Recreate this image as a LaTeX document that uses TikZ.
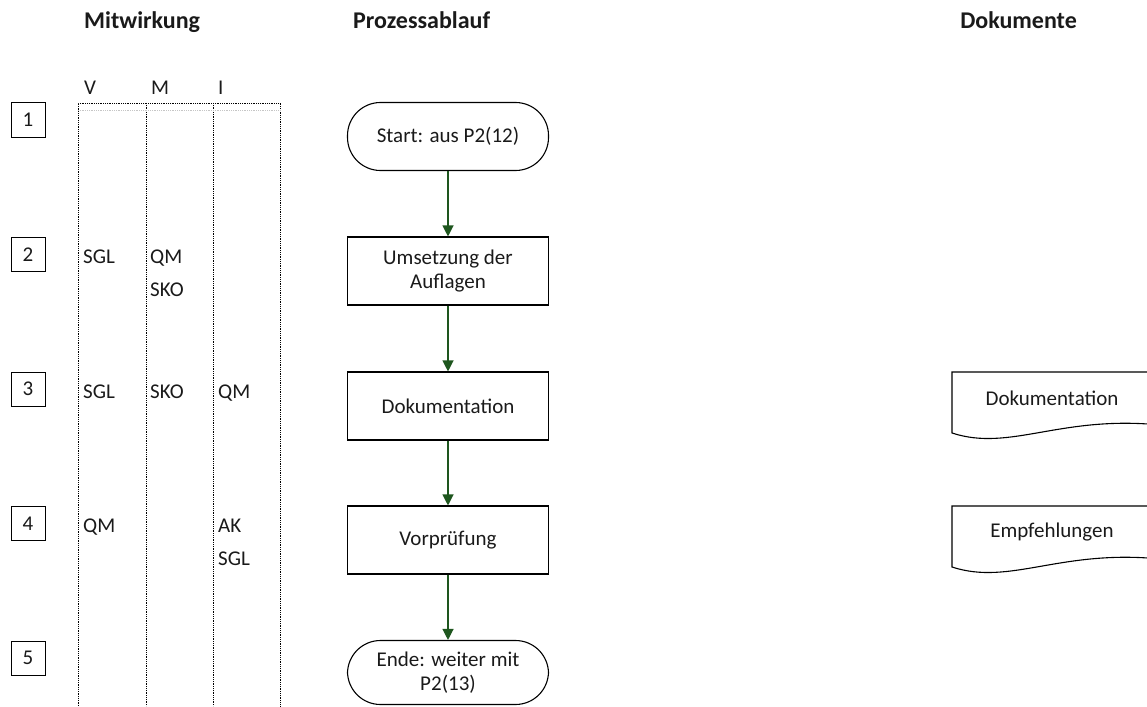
\documentclass[tikz,border=0pt]{standalone}
\usepackage{fontspec}
\setmainfont{Carlito}
\usetikzlibrary{arrows.meta}
\definecolor{flowgreen}{HTML}{1E561E}
\definecolor{ink}{HTML}{1A1A1A}
\begin{document}
\begin{tikzpicture}[x=1pt,y=-1pt,
  every node/.style={text=ink,font=\fontsize{21}{23.5}\selectfont},
  heading/.style={font=\bfseries\fontsize{24}{28}\selectfont, inner sep=0},
  plain/.style={anchor=base west, inner sep=0},
  numbox/.style={draw=black, line width=1pt, minimum width=34pt, minimum height=34pt, inner sep=0},
  procbox/.style={draw=black, line width=1.1pt, minimum width=201pt, minimum height=68pt, align=center, inner sep=2pt},
  terminal/.style={procbox, rounded corners=33pt},
  flow/.style={draw=flowgreen, line width=1.2pt, -{Triangle[length=11pt,width=11pt]}},
  lane/.style={line width=0.9pt, dash pattern=on 0.9pt off 0.9pt},
  docshape/.style={draw=black, line width=1.1pt}
]
\useasboundingbox (0,0) rectangle (1147,706);

% column headings
\node[heading, anchor=base west] (hmit) at (84,29) {Mitwirkung};
\node[heading, anchor=base west] (hproz) at (353,29) {Prozessablauf};
\node[heading, anchor=base east] (hdok) at (1077,29) {Dokumente};

% participation lanes V / M / I
\node[plain] (cv) at (84,95) {V};
\node[plain] (cm) at (151,95) {M};
\node[plain] (ci) at (218,95) {I};
\draw[lane] (78,706) -- (78,103) -- (280,103) -- (280,706);
\draw[lane] (146,103) -- (146,706);
\draw[lane] (213,103) -- (213,706);
\draw[lane, gray!45] (78,110) -- (280,110);

% step numbers
\node[numbox] (n1) at (28,120) {1};
\node[numbox] (n2) at (28,254.5) {2};
\node[numbox] (n3) at (28,389) {3};
\node[numbox] (n4) at (28,523.5) {4};
\node[numbox] (n5) at (28,658) {5};

% roles per step
\node[plain] (r2v) at (83,263.5) {SGL};
\node[plain] (r2m) at (150,263.5) {QM};
\node[plain] (r2m2) at (150,296) {SKO};
\node[plain] (r3v) at (83,398) {SGL};
\node[plain] (r3m) at (150,398) {SKO};
\node[plain] (r3i) at (218,398) {QM};
\node[plain] (r4v) at (83,532.5) {QM};
\node[plain] (r4i) at (218,532.5) {AK};
\node[plain] (r4i2) at (218,565) {SGL};

% process flow
\node[terminal] (start) at (448,136.5) {Start: aus P2(12)};
\node[procbox] (umsetz) at (448,271) {Umsetzung der\\Auflagen};
\node[procbox] (doku) at (448,406) {Dokumentation};
\node[procbox] (vorpr) at (448,540) {Vorprüfung};
\node[terminal, minimum height=64pt] (ende) at (448,672.5) {Ende: weiter mit\\P2(13)};

\draw[flow] (start) -- (umsetz);
\draw[flow] (umsetz) -- (doku);
\draw[flow] (doku) -- (vorpr);
\draw[flow] (vorpr) -- (ende);

% documents
\begin{scope}
\clip (0,0) rectangle (1147,706);
\draw[docshape] (1160,372) -- (952,372) -- (952,433)
  .. controls (1010,452) and (1060,415) .. (1160,425);
\draw[docshape] (1160,506) -- (952,506) -- (952,567)
  .. controls (1010,586) and (1060,549) .. (1160,559);
\end{scope}
\node (d1) at (1052,398) {Dokumentation};
\node (d2) at (1052,532) {Empfehlungen};
\end{tikzpicture}
\end{document}
